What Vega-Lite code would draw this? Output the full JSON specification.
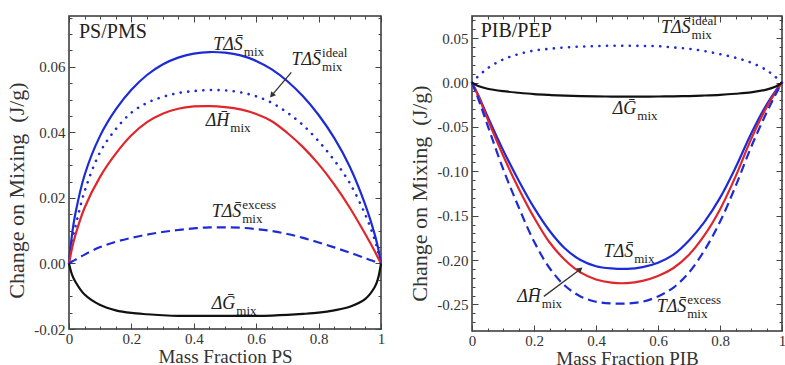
{
  "$schema": "https://vega.github.io/schema/vega-lite/v6.json",
  "padding": {"left": 5, "top": 13, "right": 0, "bottom": 0},
  "spacing": 21,
  "background": "white",
  "config": {
    "view": {"stroke": "#333", "strokeWidth": 1.5},
    "font": "Liberation Serif",
    "axis": {"labelFont": "Liberation Serif", "labelFontSize": 15, "labelColor": "#333", "titleFont": "Liberation Serif", "titleFontSize": 19, "titleFontWeight": "normal", "titleColor": "#333", "tickColor": "#444", "tickWidth": 1, "domain": false, "grid": false, "labelOverlap": false, "labelBound": false, "labelFlush": false}
  },
  "datasets": {
    "ps": [
      {"phi": 0, "tds": 0, "ideal": 0, "dh": 0, "excess": 0, "dg": 0},
      {"phi": 0.01, "tds": 0.009, "ideal": 0.007, "dh": 0.0048, "excess": 0.0006, "dg": -0.0035},
      {"phi": 0.02, "tds": 0.015, "ideal": 0.011, "dh": 0.0085, "excess": 0.0011, "dg": -0.0055},
      {"phi": 0.05, "tds": 0.027, "ideal": 0.022, "dh": 0.017, "excess": 0.0027, "dg": -0.0095},
      {"phi": 0.1, "tds": 0.039, "ideal": 0.034, "dh": 0.0265, "excess": 0.005, "dg": -0.0127},
      {"phi": 0.15, "tds": 0.047, "ideal": 0.041, "dh": 0.0335, "excess": 0.0066, "dg": -0.0143},
      {"phi": 0.2, "tds": 0.053, "ideal": 0.046, "dh": 0.0391, "excess": 0.0078, "dg": -0.0151},
      {"phi": 0.25, "tds": 0.0575, "ideal": 0.049, "dh": 0.0431, "excess": 0.0088, "dg": -0.0155},
      {"phi": 0.3, "tds": 0.0607, "ideal": 0.0508, "dh": 0.0457, "excess": 0.0096, "dg": -0.0158},
      {"phi": 0.35, "tds": 0.0628, "ideal": 0.052, "dh": 0.0472, "excess": 0.0102, "dg": -0.016},
      {"phi": 0.4, "tds": 0.064, "ideal": 0.0526, "dh": 0.0479, "excess": 0.0107, "dg": -0.016},
      {"phi": 0.45, "tds": 0.0645, "ideal": 0.0529, "dh": 0.048, "excess": 0.011, "dg": -0.016},
      {"phi": 0.5, "tds": 0.0643, "ideal": 0.0528, "dh": 0.0477, "excess": 0.011, "dg": -0.016},
      {"phi": 0.55, "tds": 0.0635, "ideal": 0.0522, "dh": 0.047, "excess": 0.0109, "dg": -0.016},
      {"phi": 0.6, "tds": 0.0618, "ideal": 0.051, "dh": 0.0456, "excess": 0.0105, "dg": -0.016},
      {"phi": 0.65, "tds": 0.0592, "ideal": 0.049, "dh": 0.0434, "excess": 0.0099, "dg": -0.0159},
      {"phi": 0.7, "tds": 0.0556, "ideal": 0.046, "dh": 0.0398, "excess": 0.009, "dg": -0.0157},
      {"phi": 0.75, "tds": 0.051, "ideal": 0.0422, "dh": 0.0355, "excess": 0.0078, "dg": -0.0154},
      {"phi": 0.8, "tds": 0.0453, "ideal": 0.0373, "dh": 0.0303, "excess": 0.0064, "dg": -0.015},
      {"phi": 0.85, "tds": 0.0383, "ideal": 0.0315, "dh": 0.0241, "excess": 0.0049, "dg": -0.0143},
      {"phi": 0.9, "tds": 0.0295, "ideal": 0.0245, "dh": 0.017, "excess": 0.0033, "dg": -0.0132},
      {"phi": 0.95, "tds": 0.0178, "ideal": 0.0148, "dh": 0.0089, "excess": 0.0016, "dg": -0.0108},
      {"phi": 0.98, "tds": 0.0088, "ideal": 0.0072, "dh": 0.0037, "excess": 0.0006, "dg": -0.0072},
      {"phi": 0.99, "tds": 0.005, "ideal": 0.0038, "dh": 0.0018, "excess": 0.0003, "dg": -0.0048},
      {"phi": 1, "tds": 0, "ideal": 0, "dh": 0, "excess": 0, "dg": 0}
    ],
    "pib": [
      {"phi": 0, "tds": 0, "ideal": 0, "dh": 0, "excess": 0, "dg": 0},
      {"phi": 0.01, "tds": -0.007, "ideal": 0.004, "dh": -0.0075, "excess": -0.009, "dg": -0.002},
      {"phi": 0.02, "tds": -0.014, "ideal": 0.007, "dh": -0.015, "excess": -0.018, "dg": -0.004},
      {"phi": 0.05, "tds": -0.038, "ideal": 0.016, "dh": -0.041, "excess": -0.048, "dg": -0.007},
      {"phi": 0.1, "tds": -0.076, "ideal": 0.026, "dh": -0.082, "excess": -0.097, "dg": -0.0097},
      {"phi": 0.15, "tds": -0.11, "ideal": 0.032, "dh": -0.119, "excess": -0.14, "dg": -0.0115},
      {"phi": 0.2, "tds": -0.141, "ideal": 0.036, "dh": -0.152, "excess": -0.179, "dg": -0.013},
      {"phi": 0.25, "tds": -0.167, "ideal": 0.038, "dh": -0.18, "excess": -0.209, "dg": -0.014},
      {"phi": 0.3, "tds": -0.187, "ideal": 0.0395, "dh": -0.2, "excess": -0.229, "dg": -0.0148},
      {"phi": 0.35, "tds": -0.2, "ideal": 0.0405, "dh": -0.214, "excess": -0.241, "dg": -0.0153},
      {"phi": 0.4, "tds": -0.207, "ideal": 0.041, "dh": -0.222, "excess": -0.247, "dg": -0.0156},
      {"phi": 0.45, "tds": -0.2095, "ideal": 0.0415, "dh": -0.2255, "excess": -0.249, "dg": -0.0158},
      {"phi": 0.5, "tds": -0.21, "ideal": 0.0415, "dh": -0.226, "excess": -0.249, "dg": -0.0158},
      {"phi": 0.55, "tds": -0.208, "ideal": 0.0413, "dh": -0.2235, "excess": -0.247, "dg": -0.0158},
      {"phi": 0.6, "tds": -0.203, "ideal": 0.041, "dh": -0.218, "excess": -0.241, "dg": -0.0157},
      {"phi": 0.65, "tds": -0.194, "ideal": 0.0395, "dh": -0.209, "excess": -0.231, "dg": -0.0155},
      {"phi": 0.7, "tds": -0.178, "ideal": 0.038, "dh": -0.194, "excess": -0.214, "dg": -0.0152},
      {"phi": 0.75, "tds": -0.157, "ideal": 0.0355, "dh": -0.172, "excess": -0.189, "dg": -0.0146},
      {"phi": 0.8, "tds": -0.13, "ideal": 0.032, "dh": -0.143, "excess": -0.157, "dg": -0.0138},
      {"phi": 0.85, "tds": -0.096, "ideal": 0.028, "dh": -0.106, "excess": -0.117, "dg": -0.0126},
      {"phi": 0.9, "tds": -0.058, "ideal": 0.0225, "dh": -0.064, "excess": -0.073, "dg": -0.011},
      {"phi": 0.95, "tds": -0.025, "ideal": 0.014, "dh": -0.028, "excess": -0.034, "dg": -0.008},
      {"phi": 0.98, "tds": -0.009, "ideal": 0.006, "dh": -0.0105, "excess": -0.013, "dg": -0.0045},
      {"phi": 0.99, "tds": -0.0045, "ideal": 0.003, "dh": -0.005, "excess": -0.0065, "dg": -0.0025},
      {"phi": 1, "tds": 0, "ideal": 0, "dh": 0, "excess": 0, "dg": 0}
    ],
    "psNotes": [
      {"main": "TΔS\u0304", "sub": "mix", "sup": "", "phi": 0.557, "v": 0.0667},
      {"main": "TΔS\u0304", "sub": "mix", "sup": "ideal", "phi": 0.808, "v": 0.062},
      {"main": "ΔH\u0304", "sub": "mix", "sup": "", "phi": 0.514, "v": 0.0436},
      {"main": "TΔS\u0304", "sub": "mix", "sup": "excess", "phi": 0.552, "v": 0.0156},
      {"main": "ΔG\u0304", "sub": "mix", "sup": "", "phi": 0.533, "v": -0.0124}
    ],
    "pibNotes": [
      {"main": "TΔS\u0304", "sub": "mix", "sup": "ideal", "phi": 0.705, "v": 0.062},
      {"main": "ΔG\u0304", "sub": "mix", "sup": "", "phi": 0.53, "v": -0.03},
      {"main": "TΔS\u0304", "sub": "mix", "sup": "", "phi": 0.52, "v": -0.191},
      {"main": "ΔH\u0304", "sub": "mix", "sup": "", "phi": 0.222, "v": -0.242},
      {"main": "TΔS\u0304", "sub": "mix", "sup": "excess", "phi": 0.691, "v": -0.253}
    ]
  },
  "hconcat": [
    {
      "width": 312,
      "height": 313,
      "data": {"name": "ps"},
      "layer": [
        {
          "mark": {"type": "line", "color": "#1c2bd6", "strokeWidth": 2.2, "interpolate": "catmull-rom"},
          "encoding": {
            "x": {"field": "phi", "type": "quantitative", "scale": {"domain": [0, 1], "nice": false, "zero": false},
              "axis": {"orient": "bottom", "values": [0, 0.2, 0.4, 0.6, 0.8, 1], "tickSize": -6, "labelPadding": 8, "labelExpr": "datum.value === 0 ? '0' : datum.value === 1 ? '1' : format(datum.value, '.1f')", "title": "Mass Fraction PS", "titlePadding": 1}},
            "y": {"field": "tds", "type": "quantitative", "scale": {"domain": [-0.02, 0.0755], "nice": false, "zero": false},
              "axis": {"orient": "left", "values": [-0.02, 0, 0.02, 0.04, 0.06], "tickSize": -6, "labelPadding": 10, "labelExpr": "(datum.value < 0 ? '-' : '') + format(abs(datum.value), '.2f')", "title": "Change on Mixing\u00a0 (J/g)", "titleFontSize": 22, "titleY": 174, "titlePadding": 5}}
          }
        },
        {
          "mark": {"type": "line", "color": "#1c2bd6", "strokeWidth": 2.6, "strokeDash": [0.1, 7.5], "strokeCap": "round", "interpolate": "catmull-rom"},
          "encoding": {
            "x": {"field": "phi", "type": "quantitative", "scale": {"domain": [0, 1], "nice": false, "zero": false},
              "axis": {"orient": "bottom", "values": [0.05, 0.1, 0.15, 0.25, 0.3, 0.35, 0.45, 0.5, 0.55, 0.65, 0.7, 0.75, 0.85, 0.9, 0.95], "tickSize": -3, "labels": false, "title": null}},
            "y": {"field": "ideal", "type": "quantitative", "scale": {"domain": [-0.02, 0.0755], "nice": false, "zero": false},
              "axis": {"orient": "left", "values": [-0.015, -0.01, -0.005, 0.005, 0.01, 0.015, 0.025, 0.03, 0.035, 0.045, 0.05, 0.055, 0.065, 0.07, 0.075], "tickSize": -3, "labels": false, "title": null}}
          }
        },
        {
          "mark": {"type": "line", "color": "#e0262a", "strokeWidth": 2.2, "interpolate": "catmull-rom"},
          "encoding": {
            "x": {"field": "phi", "type": "quantitative", "scale": {"domain": [0, 1], "nice": false, "zero": false},
              "axis": {"orient": "top", "values": [0, 0.2, 0.4, 0.6, 0.8, 1], "tickSize": -6, "labels": false, "title": null}},
            "y": {"field": "dh", "type": "quantitative", "scale": {"domain": [-0.02, 0.0755], "nice": false, "zero": false},
              "axis": {"orient": "right", "values": [-0.02, 0, 0.02, 0.04, 0.06], "tickSize": -6, "labels": false, "title": null}}
          }
        },
        {
          "mark": {"type": "line", "color": "#1c2bd6", "strokeWidth": 2.2, "strokeDash": [9, 5], "interpolate": "catmull-rom"},
          "encoding": {
            "x": {"field": "phi", "type": "quantitative", "scale": {"domain": [0, 1], "nice": false, "zero": false},
              "axis": {"orient": "top", "values": [0.05, 0.1, 0.15, 0.25, 0.3, 0.35, 0.45, 0.5, 0.55, 0.65, 0.7, 0.75, 0.85, 0.9, 0.95], "tickSize": -3, "labels": false, "title": null}},
            "y": {"field": "excess", "type": "quantitative", "scale": {"domain": [-0.02, 0.0755], "nice": false, "zero": false},
              "axis": {"orient": "right", "values": [-0.015, -0.01, -0.005, 0.005, 0.01, 0.015, 0.025, 0.03, 0.035, 0.045, 0.05, 0.055, 0.065, 0.07, 0.075], "tickSize": -3, "labels": false, "title": null}}
          }
        },
        {
          "mark": {"type": "line", "color": "#111", "strokeWidth": 2.2, "interpolate": "catmull-rom"},
          "encoding": {
            "x": {"field": "phi", "type": "quantitative", "scale": {"domain": [0, 1], "nice": false, "zero": false}, "axis": null},
            "y": {"field": "dg", "type": "quantitative", "scale": {"domain": [-0.02, 0.0755], "nice": false, "zero": false}, "axis": null}
          }
        },
        {
          "data": {"values": [{"phi": 0.7125, "v": 0.0583, "phi2": 0.652, "v2": 0.0515}]},
          "mark": {"type": "rule", "color": "#333", "strokeWidth": 1.3},
          "encoding": {
            "x": {"field": "phi", "type": "quantitative", "scale": {"domain": [0, 1], "nice": false, "zero": false}, "axis": null},
            "y": {"field": "v", "type": "quantitative", "scale": {"domain": [-0.02, 0.0755], "nice": false, "zero": false}, "axis": null},
            "x2": {"field": "phi2"},
            "y2": {"field": "v2"}
          }
        },
        {
          "data": {"values": [{"phi": 0.7125, "v": 0.0583, "phi2": 0.652, "v2": 0.0515}]},
          "mark": {"type": "point", "shape": "triangle", "filled": true, "color": "#333", "opacity": 1, "size": 40, "angle": 220},
          "encoding": {
            "x": {"field": "phi2", "type": "quantitative", "scale": {"domain": [0, 1], "nice": false, "zero": false}, "axis": null},
            "y": {"field": "v2", "type": "quantitative", "scale": {"domain": [-0.02, 0.0755], "nice": false, "zero": false}, "axis": null}
          }
        },
        {
          "data": {"name": "psNotes"},
          "mark": {"type": "text", "align": "right", "baseline": "middle", "font": "Liberation Serif", "fontSize": 18, "fontStyle": "italic", "color": "#222"},
          "encoding": {
            "x": {"field": "phi", "type": "quantitative", "scale": {"domain": [0, 1], "nice": false, "zero": false}, "axis": null},
            "y": {"field": "v", "type": "quantitative", "scale": {"domain": [-0.02, 0.0755], "nice": false, "zero": false}, "axis": null},
            "text": {"field": "main"}
          }
        },
        {
          "data": {"name": "psNotes"},
          "mark": {"type": "text", "align": "left", "baseline": "middle", "font": "Liberation Serif", "fontSize": 13, "dy": 7, "dx": 1, "color": "#222"},
          "encoding": {
            "x": {"field": "phi", "type": "quantitative", "scale": {"domain": [0, 1], "nice": false, "zero": false}, "axis": null},
            "y": {"field": "v", "type": "quantitative", "scale": {"domain": [-0.02, 0.0755], "nice": false, "zero": false}, "axis": null},
            "text": {"field": "sub"}
          }
        },
        {
          "data": {"name": "psNotes"},
          "mark": {"type": "text", "align": "left", "baseline": "middle", "font": "Liberation Serif", "fontSize": 13, "dy": -7, "dx": 1, "color": "#222"},
          "encoding": {
            "x": {"field": "phi", "type": "quantitative", "scale": {"domain": [0, 1], "nice": false, "zero": false}, "axis": null},
            "y": {"field": "v", "type": "quantitative", "scale": {"domain": [-0.02, 0.0755], "nice": false, "zero": false}, "axis": null},
            "text": {"field": "sup"}
          }
        },
        {
          "data": {"values": [{"tag": "PS/PMS", "phi": 0.032, "v": 0.0705}]},
          "mark": {"type": "text", "align": "left", "baseline": "middle", "font": "Liberation Serif", "fontSize": 20, "color": "#222"},
          "encoding": {
            "x": {"field": "phi", "type": "quantitative", "scale": {"domain": [0, 1], "nice": false, "zero": false}, "axis": null},
            "y": {"field": "v", "type": "quantitative", "scale": {"domain": [-0.02, 0.0755], "nice": false, "zero": false}, "axis": null},
            "text": {"field": "tag"}
          }
        }
      ],
      "resolve": {"axis": {"x": "independent", "y": "independent"}}
    },
    {
      "width": 310,
      "height": 315,
      "data": {"name": "pib"},
      "layer": [
        {
          "mark": {"type": "line", "color": "#1c2bd6", "strokeWidth": 2.2, "interpolate": "catmull-rom"},
          "encoding": {
            "x": {"field": "phi", "type": "quantitative", "scale": {"domain": [0, 1], "nice": false, "zero": false},
              "axis": {"orient": "bottom", "values": [0, 0.2, 0.4, 0.6, 0.8, 1], "tickSize": -6, "labelPadding": 8, "labelExpr": "datum.value === 0 ? '0' : datum.value === 1 ? '1' : format(datum.value, '.1f')", "title": "Mass Fraction PIB", "titlePadding": 1}},
            "y": {"field": "tds", "type": "quantitative", "scale": {"domain": [-0.28, 0.075], "nice": false, "zero": false},
              "axis": {"orient": "left", "values": [-0.25, -0.2, -0.15, -0.1, -0.05, 0, 0.05], "tickSize": -6, "labelPadding": 10, "labelExpr": "(datum.value < 0 ? '-' : '') + format(abs(datum.value), '.2f')", "title": "Change on Mixing\u00a0 (J/g)", "titleFontSize": 22, "titleY": 177, "titlePadding": 5}}
          }
        },
        {
          "mark": {"type": "line", "color": "#1c2bd6", "strokeWidth": 2.6, "strokeDash": [0.1, 7.5], "strokeCap": "round", "interpolate": "catmull-rom"},
          "encoding": {
            "x": {"field": "phi", "type": "quantitative", "scale": {"domain": [0, 1], "nice": false, "zero": false},
              "axis": {"orient": "bottom", "values": [0.05, 0.1, 0.15, 0.25, 0.3, 0.35, 0.45, 0.5, 0.55, 0.65, 0.7, 0.75, 0.85, 0.9, 0.95], "tickSize": -3, "labels": false, "title": null}},
            "y": {"field": "ideal", "type": "quantitative", "scale": {"domain": [-0.28, 0.075], "nice": false, "zero": false},
              "axis": {"orient": "left", "values": [-0.27, -0.26, -0.24, -0.23, -0.22, -0.21, -0.19, -0.18, -0.17, -0.16, -0.14, -0.13, -0.12, -0.11, -0.09, -0.08, -0.07, -0.06, -0.04, -0.03, -0.02, -0.01, 0.01, 0.02, 0.03, 0.04, 0.06, 0.07], "tickSize": -3, "labels": false, "title": null}}
          }
        },
        {
          "mark": {"type": "line", "color": "#e0262a", "strokeWidth": 2.2, "interpolate": "catmull-rom"},
          "encoding": {
            "x": {"field": "phi", "type": "quantitative", "scale": {"domain": [0, 1], "nice": false, "zero": false},
              "axis": {"orient": "top", "values": [0, 0.2, 0.4, 0.6, 0.8, 1], "tickSize": -6, "labels": false, "title": null}},
            "y": {"field": "dh", "type": "quantitative", "scale": {"domain": [-0.28, 0.075], "nice": false, "zero": false},
              "axis": {"orient": "right", "values": [-0.25, -0.2, -0.15, -0.1, -0.05, 0, 0.05], "tickSize": -6, "labels": false, "title": null}}
          }
        },
        {
          "mark": {"type": "line", "color": "#1c2bd6", "strokeWidth": 2.2, "strokeDash": [9, 5], "interpolate": "catmull-rom"},
          "encoding": {
            "x": {"field": "phi", "type": "quantitative", "scale": {"domain": [0, 1], "nice": false, "zero": false},
              "axis": {"orient": "top", "values": [0.05, 0.1, 0.15, 0.25, 0.3, 0.35, 0.45, 0.5, 0.55, 0.65, 0.7, 0.75, 0.85, 0.9, 0.95], "tickSize": -3, "labels": false, "title": null}},
            "y": {"field": "excess", "type": "quantitative", "scale": {"domain": [-0.28, 0.075], "nice": false, "zero": false},
              "axis": {"orient": "right", "values": [-0.27, -0.26, -0.24, -0.23, -0.22, -0.21, -0.19, -0.18, -0.17, -0.16, -0.14, -0.13, -0.12, -0.11, -0.09, -0.08, -0.07, -0.06, -0.04, -0.03, -0.02, -0.01, 0.01, 0.02, 0.03, 0.04, 0.06, 0.07], "tickSize": -3, "labels": false, "title": null}}
          }
        },
        {
          "mark": {"type": "line", "color": "#111", "strokeWidth": 2.2, "interpolate": "catmull-rom"},
          "encoding": {
            "x": {"field": "phi", "type": "quantitative", "scale": {"domain": [0, 1], "nice": false, "zero": false}, "axis": null},
            "y": {"field": "dg", "type": "quantitative", "scale": {"domain": [-0.28, 0.075], "nice": false, "zero": false}, "axis": null}
          }
        },
        {
          "data": {"values": [{"phi": 0.232, "v": -0.241, "phi2": 0.347, "v2": -0.211}]},
          "mark": {"type": "rule", "color": "#333", "strokeWidth": 1.3},
          "encoding": {
            "x": {"field": "phi", "type": "quantitative", "scale": {"domain": [0, 1], "nice": false, "zero": false}, "axis": null},
            "y": {"field": "v", "type": "quantitative", "scale": {"domain": [-0.28, 0.075], "nice": false, "zero": false}, "axis": null},
            "x2": {"field": "phi2"},
            "y2": {"field": "v2"}
          }
        },
        {
          "data": {"values": [{"phi": 0.232, "v": -0.241, "phi2": 0.347, "v2": -0.211}]},
          "mark": {"type": "point", "shape": "triangle", "filled": true, "color": "#333", "opacity": 1, "size": 40, "angle": 52},
          "encoding": {
            "x": {"field": "phi2", "type": "quantitative", "scale": {"domain": [0, 1], "nice": false, "zero": false}, "axis": null},
            "y": {"field": "v2", "type": "quantitative", "scale": {"domain": [-0.28, 0.075], "nice": false, "zero": false}, "axis": null}
          }
        },
        {
          "data": {"name": "pibNotes"},
          "mark": {"type": "text", "align": "right", "baseline": "middle", "font": "Liberation Serif", "fontSize": 18, "fontStyle": "italic", "color": "#222"},
          "encoding": {
            "x": {"field": "phi", "type": "quantitative", "scale": {"domain": [0, 1], "nice": false, "zero": false}, "axis": null},
            "y": {"field": "v", "type": "quantitative", "scale": {"domain": [-0.28, 0.075], "nice": false, "zero": false}, "axis": null},
            "text": {"field": "main"}
          }
        },
        {
          "data": {"name": "pibNotes"},
          "mark": {"type": "text", "align": "left", "baseline": "middle", "font": "Liberation Serif", "fontSize": 13, "dy": 7, "dx": 1, "color": "#222"},
          "encoding": {
            "x": {"field": "phi", "type": "quantitative", "scale": {"domain": [0, 1], "nice": false, "zero": false}, "axis": null},
            "y": {"field": "v", "type": "quantitative", "scale": {"domain": [-0.28, 0.075], "nice": false, "zero": false}, "axis": null},
            "text": {"field": "sub"}
          }
        },
        {
          "data": {"name": "pibNotes"},
          "mark": {"type": "text", "align": "left", "baseline": "middle", "font": "Liberation Serif", "fontSize": 13, "dy": -7, "dx": 1, "color": "#222"},
          "encoding": {
            "x": {"field": "phi", "type": "quantitative", "scale": {"domain": [0, 1], "nice": false, "zero": false}, "axis": null},
            "y": {"field": "v", "type": "quantitative", "scale": {"domain": [-0.28, 0.075], "nice": false, "zero": false}, "axis": null},
            "text": {"field": "sup"}
          }
        },
        {
          "data": {"values": [{"tag": "PIB/PEP", "phi": 0.028, "v": 0.0585}]},
          "mark": {"type": "text", "align": "left", "baseline": "middle", "font": "Liberation Serif", "fontSize": 20, "color": "#222"},
          "encoding": {
            "x": {"field": "phi", "type": "quantitative", "scale": {"domain": [0, 1], "nice": false, "zero": false}, "axis": null},
            "y": {"field": "v", "type": "quantitative", "scale": {"domain": [-0.28, 0.075], "nice": false, "zero": false}, "axis": null},
            "text": {"field": "tag"}
          }
        }
      ],
      "resolve": {"axis": {"x": "independent", "y": "independent"}}
    }
  ]
}
